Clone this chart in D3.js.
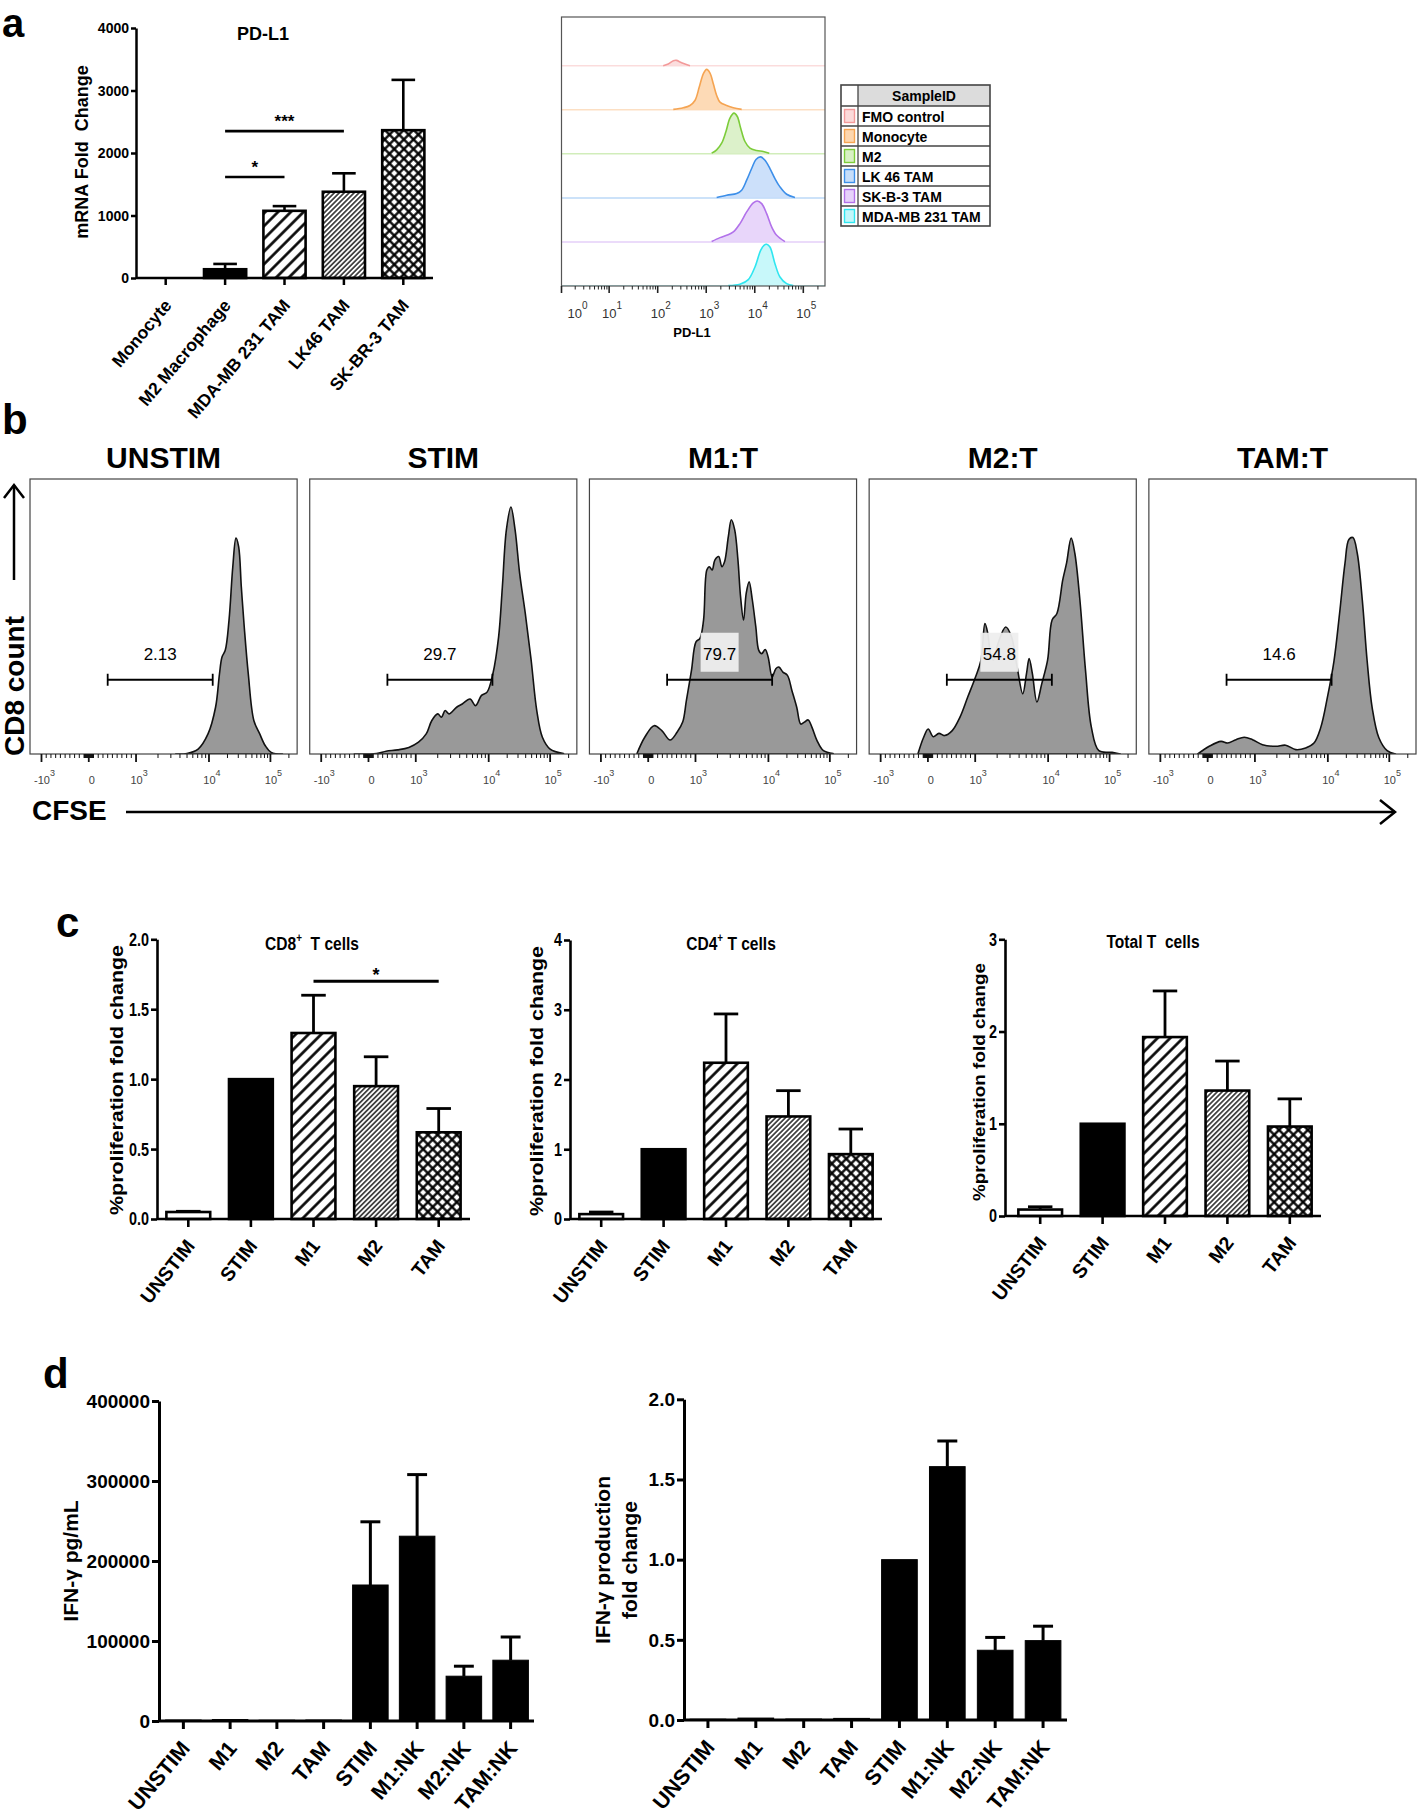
<!DOCTYPE html>
<html>
<head>
<meta charset="utf-8">
<script src="https://cdn.jsdelivr.net/npm/d3@7/dist/d3.min.js"></script>
<style>
  html,body{margin:0;padding:0;background:#fff;}
  svg{display:block;}
  text{font-family:"Liberation Sans",Arial,Helvetica,sans-serif;fill:#000;}
</style>
</head>
<body>
<svg id="fig" width="1418" height="1820" viewBox="0 0 1418 1820"></svg>
<script>
// ======================= DATA =======================
// ---- a (left): PD-L1 mRNA fold change ----
const aCategories = ["Monocyte", "M2 Macrophage", "MDA-MB 231 TAM", "LK46 TAM", "SK-BR-3 TAM"];
const aMeans      = [0, 140, 1075, 1380, 2365];
const aErrTops    = [null, 225, 1150, 1675, 3170];
const aPatterns   = ["white", "black", "hatchWide", "hatchDense", "cross"];
const aYTicks     = [0, 1000, 2000, 3000, 4000];
const aSig        = [
  {from: "M2 Macrophage", to: "LK46 TAM", y: 2350, label: "***"},
  {from: "M2 Macrophage", to: "MDA-MB 231 TAM", y: 1615, label: "*"}
];

// ---- a (right): PD-L1 flow histograms, [PD-L1 intensity, % of row height] ----
const pdl1Samples = ["FMO control", "Monocyte", "M2", "LK 46 TAM", "SK-B-3 TAM", "MDA-MB 231 TAM"];
const pdl1Stroke  = ["#f39a9a", "#f5a452", "#7ccc3a", "#3d8fe9", "#b272ea", "#2fe6f0"];
const pdl1Fill    = ["#fbdada", "#fdd6ae", "#d8f0c4", "#c6ddf9", "#e6d2fa", "#c2f7fa"];
const histFMO  = [[130,0],[165,3.8],[210,11.4],[245,12.1],[288,8.3],[365,3.8],[462,0]];
const histMono = [[210,0.8],[337,4.5],[462,9.8],[586,21],[719,51.5],[871,81.8],[1020,91.7],[1197,83.3],[1400,59],[1641,32.6],[1919,17.4],[2636,9.8],[3614,4.5],[5370,0.8]];
const histM2   = [[1294,1.5],[1641,9.1],[2080,24.2],[2553,50.8],[3083,81.1],[3733,92.4],[4365,84.8],[5129,58.3],[6281,28],[7962,12.9],[10914,7.6],[15000,5.3],[19900,1.5]];
const histLK46 = [[1641,0.8],[2636,6.1],[4236,9.8],[5370,17.4],[6808,40.2],[8630,66.7],[10590,87.1],[13213,93.2],[16218,85.6],[20560,66.7],[26062,43.9],[33037,25],[45394,8.3],[67298,0.8]];
const histSK   = [[1294,0.8],[1919,9.8],[2636,15.2],[3614,22.7],[4955,41.7],[6808,68.2],[9333,88.6],[11272,93.2],[13868,87.1],[17579,64.4],[22284,34.1],[28249,15.2],[41879,0.8]];
const histMDA  = [[2851,0.8],[4955,3.8],[7362,14.4],[10093,43.2],[13213,81.1],[15488,92.4],[17579,94.7],[20560,88.6],[26062,50.8],[33037,20.5],[45394,5.3],[62230,0.8]];
const pdl1Hists = [histFMO, histMono, histM2, histLK46, histSK, histMDA];
const pdl1Decades = [1, 10, 100, 1000, 10000, 100000];

// ---- b: CFSE dilution histograms, [CFSE value, % of plot height] ----
const flowConditions = ["UNSTIM", "STIM", "M1:T", "M2:T", "TAM:T"];
const flowGatePct    = ["2.13", "29.7", "79.7", "54.8", "14.6"];
const flowLabelBoxed = [false, false, true, true, false];
const flowGate       = [400, 11500];
const flowUNSTIM = [[3500,0],[5000,0.2],[7100,1.8],[9700,7.3],[12800,17],[14800,29],[16300,35.3],[18400,37.7],[21200,48.7],[24400,68],[27500,78.5],[30400,75.4],[33600,60.8],[37500,46.2],[43600,29.2],[53700,12.2],[67000,7.3],[82600,3],[103000,0.6],[157000,0]];
const flowSTIM = [[-300,0],[170,0.2],[373,1],[616,1.5],[853,2.4],[1090,4.3],[1390,7.3],[1660,12.2],[2000,14.6],[2250,13.4],[2530,15.8],[2850,14.6],[3630,17],[4340,18.2],[5540,20],[6610,17.6],[7960,21.3],[9500,22.5],[11700,29.2],[14500,42.6],[16700,60.8],[19400,81.5],[23000,89.8],[26900,81.5],[31900,65.7],[39400,51.1],[49100,34.1],[60600,15.8],[74800,6.1],[100000,1.8],[165000,0.2]];
const flowM1 = [[-237,0.2],[-73,6.1],[124,10.3],[288,8.5],[463,5.1],[610,7.9],[729,11.6],[808,19.5],[915,30.4],[1016,40.8],[1150,42],[1290,48.7],[1430,66.9],[1550,68.1],[1690,66.9],[1850,70.6],[2080,71.8],[2300,68.1],[2510,70],[2820,79],[3100,85.2],[3450,81.5],[3820,70.6],[4150,57.2],[4560,48.7],[4960,58.4],[5440,62.6],[6020,56],[6720,46.2],[7380,37.7],[8100,36.5],[9030,38],[9910,35.3],[11500,28],[13200,31],[14800,31.6],[17200,29.8],[20400,28.6],[24100,23.1],[28900,17],[33600,10.9],[38600,11.6],[44400,12.4],[51200,9.7],[61800,4.9],[78700,1.2],[113000,0.2]];
const flowM2 = [[-209,0.2],[-90,6.1],[6,9.1],[113,6.3],[232,7.5],[350,6.7],[514,8.5],[678,13.4],[842,20.7],[1010,28],[1200,34.1],[1360,47.4],[1490,43.8],[1620,36.5],[1770,34.1],[2050,40.1],[2620,46.2],[3150,42.6],[3760,31.6],[4490,21.9],[5050,29.2],[5490,34.7],[6080,29.2],[7020,18.9],[8170,25.5],[9830,34.1],[11600,48.7],[13900,51.1],[17300,63.3],[19900,69.3],[23700,78.5],[27200,73],[32900,56],[40600,30.4],[50600,9.7],[67000,1.2],[110000,0.6],[149000,0]];
const flowTAM = [[-209,0],[34,2.8],[282,4.6],[424,4],[599,5.2],[774,6.1],[949,5.2],[1270,3.4],[1930,2.8],[2640,3.2],[3630,1.6],[4960,2.2],[6450,4],[7960,9.5],[9840,20.5],[12600,33.9],[15500,51],[19000,69.3],[22000,78],[25600,78.7],[30100,73],[36400,55.9],[43600,33.9],[52700,16.8],[67700,5.9],[92300,1.2],[126000,0]];
const flowHists = [flowUNSTIM, flowSTIM, flowM1, flowM2, flowTAM];
const flowMajorTicks = [-1000, 0, 1000, 10000, 100000];
const flowMajorLabels = [["-10","3"], ["0",""], ["10","3"], ["10","4"], ["10","5"]];

// ---- c: % proliferation fold change ----
const cCategories = ["UNSTIM", "STIM", "M1", "M2", "TAM"];
const cPatterns   = ["white", "black", "hatchWide", "hatchDense", "cross"];
const cd8Means    = [0.05, 1.0, 1.33, 0.95, 0.62];
const cd8ErrTops  = [0.055, null, 1.60, 1.16, 0.79];
const cd4Means    = [0.07, 1.0, 2.24, 1.47, 0.93];
const cd4ErrTops  = [0.10, null, 2.94, 1.84, 1.29];
const totMeans    = [0.07, 1.0, 1.94, 1.36, 0.97];
const totErrTops  = [0.10, null, 2.44, 1.68, 1.27];
const cd8Sig      = [{from: "M1", to: "TAM", y: 1.70, label: "*"}];
const cd8YTicks   = [0, 0.5, 1.0, 1.5, 2.0];
const cd4YTicks   = [0, 1, 2, 3, 4];
const totYTicks   = [0, 1, 2, 3];

// ---- d: IFN-gamma ----
const dCategories    = ["UNSTIM", "M1", "M2", "TAM", "STIM", "M1:NK", "M2:NK", "TAM:NK"];
const ifnMeans       = [1200, 1800, 1000, 1200, 170000, 231000, 56000, 76000];
const ifnErrTops     = [null, null, null, null, 249000, 308000, 68500, 105000];
const ifnFoldMeans   = [0.005, 0.012, 0.006, 0.010, 1.0, 1.58, 0.435, 0.495];
const ifnFoldErrTops = [null, null, null, null, null, 1.74, 0.515, 0.585];
const ifnYTicks      = [0, 100000, 200000, 300000, 400000];
const ifnFoldYTicks  = [0, 0.5, 1.0, 1.5, 2.0];

// ======================= DRAWING =======================
const svg = d3.select("#fig");
const defs = svg.append("defs");

function makeHatch(id, spacing, width, cross) {
  const p = defs.append("pattern").attr("id", id).attr("patternUnits", "userSpaceOnUse")
    .attr("width", spacing).attr("height", spacing).attr("patternTransform", "rotate(45)");
  p.append("rect").attr("width", spacing).attr("height", spacing).attr("fill", "#fff");
  p.append("line").attr("x1", spacing / 2).attr("x2", spacing / 2).attr("y1", 0).attr("y2", spacing)
    .attr("stroke", "#000").attr("stroke-width", width);
  if (cross) p.append("line").attr("y1", spacing / 2).attr("y2", spacing / 2).attr("x1", 0).attr("x2", spacing)
    .attr("stroke", "#000").attr("stroke-width", width);
}
makeHatch("hatchWide", 9, 2.6, false);
makeHatch("hatchDense", 3.5, 1.3, false);
makeHatch("cross", 6.8, 2.3, true);
const fillOf = p => p === "white" ? "#fff" : p === "black" ? "#000" : `url(#${p})`;

function styleAxis(sel, sw) {
  sel.select(".domain").attr("stroke", "#000").attr("stroke-width", sw);
  sel.selectAll(".tick line").attr("stroke", "#000").attr("stroke-width", sw);
  sel.selectAll(".tick text").remove();
}

function barChart(o) {
  const g = svg.append("g");
  const x = d3.scaleBand().domain(o.cats).range(o.xRange).paddingInner(o.padIn).paddingOuter(o.padOut);
  const y = d3.scaleLinear().domain(o.yDomain).range(o.yRange);
  const bw = x.bandwidth();
  const rows = o.cats.map((c, i) => ({c, m: o.means[i], e: o.errs[i], p: o.patterns[i]}));
  g.selectAll(".bar").data(rows.filter(d => d.m > 0)).join("rect").attr("class", "bar")
    .attr("x", d => x(d.c)).attr("width", bw)
    .attr("y", d => y(d.m)).attr("height", d => Math.max(0, y(0) - y(d.m)))
    .attr("fill", d => fillOf(d.p)).attr("stroke", "#000").attr("stroke-width", o.barStroke);
  const eb = rows.filter(d => d.e != null);
  g.selectAll(".errv").data(eb).join("line").attr("class", "errv")
    .attr("x1", d => x(d.c) + bw / 2).attr("x2", d => x(d.c) + bw / 2)
    .attr("y1", d => y(d.m)).attr("y2", d => y(d.e))
    .attr("stroke", "#000").attr("stroke-width", o.errW);
  g.selectAll(".errc").data(eb).join("line").attr("class", "errc")
    .attr("x1", d => x(d.c) + bw / 2 - bw * 0.28).attr("x2", d => x(d.c) + bw / 2 + bw * 0.28)
    .attr("y1", d => y(d.e)).attr("y2", d => y(d.e))
    .attr("stroke", "#000").attr("stroke-width", o.errW);
  const ya = g.append("g").attr("transform", `translate(${o.axisX},0)`)
    .call(d3.axisLeft(y).tickValues(o.yTicks).tickSize(o.tickLen).tickSizeOuter(0));
  styleAxis(ya, o.axisW);
  const xa = g.append("g").attr("transform", `translate(0,${y(0)})`)
    .call(d3.axisBottom(x).tickSize(o.xTickLen).tickSizeOuter(0));
  styleAxis(xa, o.axisW);
  xa.select(".domain").attr("d", `M${o.axisX},0H${o.xRange[1]}`);
  g.selectAll(".ytl").data(o.yTicks).join("text").attr("class", "ytl")
    .attr("transform", v => `translate(${o.axisX - o.tickLen - 2},${y(v)}) scale(${o.sx},1)`)
    .attr("text-anchor", "end").attr("dy", "0.36em").attr("font-size", o.tickFont).attr("font-weight", "bold")
    .text(v => o.fmt(v));
  g.selectAll(".xl").data(o.cats).join("text").attr("class", "xl")
    .attr("transform", c => `translate(${x(c) + bw / 2 + o.xlDx},${y(0) + o.xlDy}) rotate(${-o.xlAng})`)
    .attr("text-anchor", "end").attr("dy", "0.35em").attr("font-size", o.xlFont).attr("font-weight", "bold")
    .text(c => c);
  if (o.sig) {
    o.sig.forEach(s => {
      const x1 = x(s.from) + bw / 2, x2 = x(s.to) + bw / 2;
      g.append("line").attr("x1", x1).attr("x2", x2).attr("y1", y(s.y)).attr("y2", y(s.y))
        .attr("stroke", "#000").attr("stroke-width", o.errW);
      g.append("text").attr("x", (x1 + x2) / 2).attr("y", y(s.y) - o.sigGap)
        .attr("text-anchor", "middle").attr("font-size", o.sigFont).attr("font-weight", "bold").text(s.label);
    });
  }
  return {g, x, y};
}

function vLabel(x, y, lines, size, stretch, gapLine) {
  const t = svg.append("text").attr("transform", `translate(${x},${y}) rotate(-90) scale(${stretch},1)`)
    .attr("text-anchor", "middle").attr("font-size", size).attr("font-weight", "bold");
  lines.forEach((l, i) => t.append("tspan").attr("x", 0).attr("dy", i === 0 ? 0 : gapLine).text(l));
  return t;
}

// panel letters
const panelLetters = [["a", 2, 37, 40], ["b", 2, 434, 42], ["c", 56, 937, 42], ["d", 43, 1388, 42]];
svg.selectAll(".plet").data(panelLetters).join("text").attr("class", "plet")
  .attr("x", d => d[1]).attr("y", d => d[2]).attr("font-size", d => d[3]).attr("font-weight", "bold").text(d => d[0]);

// ---------------- a: bar chart ----------------
barChart({
  cats: aCategories, means: aMeans, errs: aErrTops, patterns: aPatterns,
  xRange: [136, 433], padIn: 0.29, padOut: 0.145, axisX: 136,
  yDomain: [0, 4000], yRange: [278, 28], yTicks: aYTicks, fmt: d3.format("d"),
  tickLen: 5, xTickLen: 7, axisW: 2.5, barStroke: 2.6, errW: 2.6,
  tickFont: 14, sx: 1, xlFont: 17.5, xlAng: 50, xlDx: 2, xlDy: 24,
  sig: aSig, sigGap: 4, sigFont: 17
});
svg.append("text").attr("x", 263).attr("y", 40).attr("text-anchor", "middle")
  .attr("font-size", 18).attr("font-weight", "bold").text("PD-L1");
vLabel(88, 152, ["mRNA Fold\u00a0\u00a0Change"], 18, 1, 0);

// ---------------- a: PD-L1 histograms ----------------
(function () {
  const box = {x0: 561.5, x1: 825, y0: 17, y1: 286};
  const g = svg.append("g");
  const x = d3.scaleLog().domain([1, 1e5]).range([560.6, 803.3]);
  const rowY = d3.scalePoint().domain(pdl1Samples).range([65.7, box.y1]);
  const rowH = 44;
  defs.append("clipPath").attr("id", "clipA").append("rect")
    .attr("x", box.x0).attr("y", box.y0).attr("width", box.x1 - box.x0).attr("height", box.y1 - box.y0);
  const gc = g.append("g").attr("clip-path", "url(#clipA)");
  pdl1Samples.forEach((s, i) => {
    const base = rowY(s);
    const y = d3.scaleLinear().domain([0, 100]).range([base, base - rowH]);
    gc.append("line").attr("x1", box.x0).attr("x2", box.x1).attr("y1", base).attr("y2", base)
      .attr("stroke", pdl1Stroke[i]).attr("stroke-opacity", 0.35).attr("stroke-width", 1.5);
    const area = d3.area().x(d => x(d[0])).y0(y(0)).y1(d => y(d[1])).curve(d3.curveCatmullRom.alpha(0.5));
    const line = d3.line().x(d => x(d[0])).y(d => y(d[1])).curve(d3.curveCatmullRom.alpha(0.5));
    gc.append("path").attr("d", area(pdl1Hists[i])).attr("fill", pdl1Fill[i]).attr("fill-opacity", 0.9);
    gc.append("path").attr("d", line(pdl1Hists[i])).attr("fill", "none")
      .attr("stroke", pdl1Stroke[i]).attr("stroke-width", 1.6);
  });
  g.append("rect").attr("x", box.x0).attr("y", box.y0).attr("width", box.x1 - box.x0).attr("height", box.y1 - box.y0)
    .attr("fill", "none").attr("stroke", "#555").attr("stroke-width", 1.2);
  const minor = [];
  pdl1Decades.forEach(dv => { for (let k = 2; k <= 9; k++) if (x(dv * k) <= box.x1) minor.push(dv * k); });
  g.selectAll(".mnt").data(minor).join("line").attr("x1", d => x(d)).attr("x2", d => x(d))
    .attr("y1", box.y1).attr("y2", box.y1 + 3.5).attr("stroke", "#222").attr("stroke-width", 1);
  g.selectAll(".mjt").data(pdl1Decades).join("line").attr("x1", d => Math.max(box.x0, x(d))).attr("x2", d => Math.max(box.x0, x(d)))
    .attr("y1", box.y1).attr("y2", box.y1 + 7).attr("stroke", "#222").attr("stroke-width", 1.6);
  const lab = g.selectAll(".mjl").data(pdl1Decades).join("text")
    .attr("x", d => Math.max(box.x0 + 13, x(d)) + 3).attr("y", 318).attr("text-anchor", "middle")
    .attr("font-size", 13).style("fill", "#333");
  lab.append("tspan").text("10");
  lab.append("tspan").attr("dy", -9).attr("font-size", 10).text(d => Math.round(Math.log10(d)));
  g.append("text").attr("x", 692).attr("y", 337).attr("text-anchor", "middle")
    .attr("font-size", 13).attr("font-weight", "bold").text("PD-L1");

  // legend
  const L = {x: 841, y: 85, w: 149, head: 21, row: 20, col: 17};
  const lg = svg.append("g");
  lg.append("rect").attr("x", L.x + L.col).attr("y", L.y).attr("width", L.w - L.col).attr("height", L.head)
    .attr("fill", "#dcdcdc");
  lg.append("rect").attr("x", L.x).attr("y", L.y).attr("width", L.w).attr("height", L.head + L.row * pdl1Samples.length)
    .attr("fill", "none").attr("stroke", "#444").attr("stroke-width", 1.6);
  lg.append("line").attr("x1", L.x + L.col).attr("x2", L.x + L.col).attr("y1", L.y)
    .attr("y2", L.y + L.head + L.row * pdl1Samples.length).attr("stroke", "#444").attr("stroke-width", 1.3);
  lg.append("text").attr("x", L.x + L.col + (L.w - L.col) / 2).attr("y", L.y + 15.5).attr("text-anchor", "middle")
    .attr("font-size", 14).attr("font-weight", "bold").text("SampleID");
  pdl1Samples.forEach((s, i) => {
    const ry = L.y + L.head + i * L.row;
    lg.append("line").attr("x1", L.x).attr("x2", L.x + L.w).attr("y1", ry).attr("y2", ry)
      .attr("stroke", "#444").attr("stroke-width", 1.3);
    lg.append("rect").attr("x", L.x + 3.5).attr("y", ry + 3.5).attr("width", 10).attr("height", 13)
      .attr("fill", pdl1Fill[i]).attr("stroke", pdl1Stroke[i]).attr("stroke-width", 1.4);
    lg.append("text").attr("x", L.x + L.col + 4).attr("y", ry + 15.5).attr("font-size", 14)
      .attr("font-weight", "bold").text(s);
  });
})();

// ---------------- b: CFSE histograms ----------------
(function () {
  const band = d3.scaleBand().domain(flowConditions).range([30, 1416]).paddingInner(0.045).paddingOuter(0);
  const top = 479, bottom = 754;
  const frac = [0.043, 0.22, 0.397, 0.67, 0.90, 1.0];
  const uDom = [-3, 0, 3, 4, 5, 5.435];
  const biex = v => Math.abs(v) < 1000 ? v * 3 / 1000 : Math.sign(v) * Math.log10(Math.abs(v));
  const minor = [];
  for (let k = 1; k <= 9; k++) minor.push(-k * 100, k * 100, -k * 10, k * 10);
  [1000, 10000, 100000].forEach(dv => { for (let k = 2; k <= 9; k++) if (biex(dv * k) <= 5.43) minor.push(dv * k); });
  const ys = d3.scaleLinear().domain([0, 100]).range([bottom, top]);
  flowConditions.forEach((cond, i) => {
    const x0 = band(cond), w = band.bandwidth();
    const xs = d3.scaleLinear().domain(uDom).range(frac.map(f => x0 + f * w));
    const X = v => xs(biex(v));
    const g = svg.append("g");
    const cid = "clipB" + i;
    defs.append("clipPath").attr("id", cid).append("rect").attr("x", x0).attr("y", top).attr("width", w).attr("height", bottom - top);
    const area = d3.area().x(d => X(d[0])).y0(ys(0)).y1(d => ys(d[1])).curve(d3.curveCatmullRom.alpha(0.5));
    g.append("path").attr("clip-path", `url(#${cid})`).attr("d", area(flowHists[i]))
      .attr("fill", "#999").attr("stroke", "#111").attr("stroke-width", 1.6).attr("stroke-linejoin", "round");
    const gy = ys(27);
    const gx1 = X(flowGate[0]), gx2 = X(flowGate[1]), gm = (gx1 + gx2) / 2;
    if (flowLabelBoxed[i]) {
      g.append("rect").attr("x", gm - 19).attr("y", gy - 47).attr("width", 38).attr("height", 39)
        .attr("fill", "#eeeeee").attr("fill-opacity", 0.95);
    }
    g.append("line").attr("x1", gx1).attr("x2", gx2).attr("y1", gy).attr("y2", gy).attr("stroke", "#000").attr("stroke-width", 1.8);
    [gx1, gx2].forEach(gx => g.append("line").attr("x1", gx).attr("x2", gx).attr("y1", gy - 6).attr("y2", gy + 6)
      .attr("stroke", "#000").attr("stroke-width", 1.8));
    g.append("text").attr("x", gm).attr("y", gy - 20).attr("text-anchor", "middle").attr("font-size", 17).text(flowGatePct[i]);
    g.append("rect").attr("x", x0).attr("y", top).attr("width", w).attr("height", bottom - top)
      .attr("fill", "none").attr("stroke", "#444").attr("stroke-width", 1.2);
    g.selectAll(".mn").data(minor).join("line").attr("x1", d => X(d)).attr("x2", d => X(d))
      .attr("y1", bottom).attr("y2", bottom + 4).attr("stroke", "#111").attr("stroke-width", 1);
    g.selectAll(".mj").data(flowMajorTicks).join("line").attr("x1", d => X(d)).attr("x2", d => X(d))
      .attr("y1", bottom).attr("y2", bottom + 8).attr("stroke", "#111").attr("stroke-width", 1.8);
    const lab = g.selectAll(".ml").data(flowMajorTicks).join("text").attr("x", d => X(d) + 3).attr("y", 784)
      .attr("text-anchor", "middle").attr("font-size", 11).style("fill", "#444");
    lab.append("tspan").text((d, j) => flowMajorLabels[j][0]);
    lab.append("tspan").attr("dy", -8).attr("font-size", 9).text((d, j) => flowMajorLabels[j][1]);
    svg.append("text").attr("x", x0 + w / 2).attr("y", 468).attr("text-anchor", "middle")
      .attr("font-size", 30).attr("font-weight", "bold").text(cond);
  });
  svg.append("text").attr("transform", "translate(24,686) rotate(-90)").attr("text-anchor", "middle")
    .attr("font-size", 28).attr("font-weight", "bold").text("CD8 count");
  svg.append("line").attr("x1", 14).attr("x2", 14).attr("y1", 580).attr("y2", 485).attr("stroke", "#000").attr("stroke-width", 2.5);
  svg.append("polyline").attr("points", "4,498 14,485 24,498").attr("fill", "none").attr("stroke", "#000").attr("stroke-width", 2.5);
  svg.append("text").attr("x", 32).attr("y", 820).attr("font-size", 28).attr("font-weight", "bold").text("CFSE");
  svg.append("line").attr("x1", 126).attr("x2", 1395).attr("y1", 812).attr("y2", 812).attr("stroke", "#000").attr("stroke-width", 2.5);
  svg.append("polyline").attr("points", "1380,800 1395,812 1380,824").attr("fill", "none").attr("stroke", "#000").attr("stroke-width", 2.5);
})();

// ---------------- c: proliferation ----------------
const cCommon = {
  cats: cCategories, patterns: cPatterns, padIn: 0.3, padOut: 0.15,
  tickLen: 6, xTickLen: 8, axisW: 2.6, barStroke: 2.6, errW: 2.8,
  tickFont: 18, sx: 0.8, xlFont: 19.5, xlAng: 52, xlDx: 2, xlDy: 23, sigGap: 0, sigFont: 18
};
barChart(Object.assign({}, cCommon, {means: cd8Means, errs: cd8ErrTops, xRange: [157, 470], axisX: 157,
  yDomain: [0, 2], yRange: [1219, 939.3], yTicks: cd8YTicks, fmt: d3.format(".1f"), sig: cd8Sig}));
barChart(Object.assign({}, cCommon, {means: cd4Means, errs: cd4ErrTops, xRange: [570, 882], axisX: 570,
  yDomain: [0, 4], yRange: [1219, 940], yTicks: cd4YTicks, fmt: d3.format("d")}));
barChart(Object.assign({}, cCommon, {means: totMeans, errs: totErrTops, xRange: [1009, 1321], axisX: 1005,
  yDomain: [0, 3], yRange: [1216, 939.3], yTicks: totYTicks, fmt: d3.format("d")}));

function cTitle(cx, y, main, sup, rest) {
  const t = svg.append("text").attr("transform", `translate(${cx},${y}) scale(0.82,1)`).attr("text-anchor", "middle")
    .attr("font-size", 19).attr("font-weight", "bold");
  t.append("tspan").text(main);
  if (sup) t.append("tspan").attr("dy", -8).attr("font-size", 12).text(sup);
  t.append("tspan").attr("dy", sup ? 8 : 0).text(rest);
}
cTitle(312, 950, "CD8", "+", "\u00a0\u00a0T cells");
cTitle(731, 950, "CD4", "+", "\u00a0T cells");
cTitle(1153, 948, "Total T\u00a0\u00a0cells", "", "");
vLabel(123, 1080, ["%proliferation fold change"], 18, 1.19, 0);
vLabel(543, 1081, ["%proliferation fold change"], 18, 1.19, 0);
vLabel(985, 1082, ["%proliferation fold change"], 16, 1.18, 0);

// ---------------- d: IFN-gamma ----------------
const dCommon = {
  cats: dCategories, patterns: dCategories.map(() => "black"), padIn: 0.24, padOut: 0.12,
  tickLen: 7, xTickLen: 8, axisW: 3, barStroke: 1, errW: 3,
  tickFont: 19, sx: 1, xlFont: 21.5, xlAng: 50, xlDx: 2, xlDy: 23
};
barChart(Object.assign({}, dCommon, {means: ifnMeans, errs: ifnErrTops, xRange: [160, 534], axisX: 159,
  yDomain: [0, 400000], yRange: [1721, 1401], yTicks: ifnYTicks, fmt: d3.format("d")}));
barChart(Object.assign({}, dCommon, {means: ifnFoldMeans, errs: ifnFoldErrTops, xRange: [684, 1067], axisX: 684, padIn: 0.255, padOut: 0.1275,
  yDomain: [0, 2], yRange: [1720, 1399.3], yTicks: ifnFoldYTicks, fmt: d3.format(".1f")}));
vLabel(78, 1561, ["IFN-\u03b3 pg/mL"], 21, 1, 0);
vLabel(610, 1560, ["IFN-\u03b3 production", "fold change"], 21, 1, 27);
</script>
</body>
</html>
